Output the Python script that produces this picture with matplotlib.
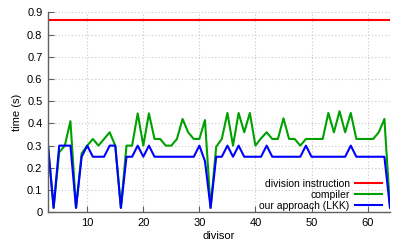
import numpy as np
import matplotlib.pyplot as plt

plt.rcParams['font.family'] = ['Liberation Sans', 'DejaVu Sans']

divisors = np.arange(3, 65)

# time (s) per divisor
div_instr = [0.865] * len(divisors)

compiler = [0.30, 0.02, 0.27, 0.30, 0.41, 0.02, 0.265, 0.30, 0.33, 0.30,
            0.33, 0.36, 0.30, 0.02, 0.30, 0.30, 0.445, 0.30, 0.445, 0.33,
            0.33, 0.30, 0.30, 0.33, 0.42, 0.36, 0.33, 0.33, 0.415, 0.02,
            0.295, 0.33, 0.447, 0.30, 0.447, 0.36, 0.447, 0.30, 0.333, 0.36,
            0.33, 0.33, 0.423, 0.33, 0.33, 0.30, 0.33, 0.33, 0.33, 0.33,
            0.447, 0.36, 0.455, 0.36, 0.447, 0.33, 0.33, 0.33, 0.33, 0.36,
            0.42, 0.02]

lkk = [0.30, 0.02, 0.30, 0.30, 0.30, 0.02, 0.25, 0.30, 0.25, 0.25,
       0.25, 0.30, 0.30, 0.02, 0.25, 0.25, 0.30, 0.25, 0.30, 0.25,
       0.25, 0.25, 0.25, 0.25, 0.25, 0.25, 0.25, 0.30, 0.23, 0.02,
       0.25, 0.25, 0.30, 0.25, 0.30, 0.25, 0.25, 0.25, 0.25, 0.30,
       0.25, 0.25, 0.25, 0.25, 0.25, 0.25, 0.30, 0.25, 0.25, 0.25,
       0.25, 0.25, 0.25, 0.25, 0.30, 0.25, 0.25, 0.25, 0.25, 0.25,
       0.25, 0.02]

fig = plt.figure(figsize=(4.07, 2.44), dpi=100)
ax = fig.add_axes([48 / 407, 31.7 / 244, 342 / 407, 200 / 244])

ax.plot(divisors, div_instr, color='#ff0000', lw=1.5, label='division instruction')
ax.plot(divisors, compiler, color='#00a000', lw=1.5, label='compiler')
ax.plot(divisors, lkk, color='#0000ff', lw=1.5, label='our approach (LKK)')

ax.set_xlim(3, 64)
ax.set_ylim(0, 0.9)
ax.set_xticks([10, 20, 30, 40, 50, 60])
ax.set_yticks(np.arange(0, 0.91, 0.1))
ax.set_yticklabels(['0', '0.1', '0.2', '0.3', '0.4', '0.5', '0.6', '0.7', '0.8', '0.9'])

ax.grid(True, color='#c8c8c8', linestyle=(0, (1, 2)), lw=0.8)
ax.set_axisbelow(True)
for s in ['top', 'right']:
    ax.spines[s].set_visible(False)
for s in ['left', 'bottom']:
    ax.spines[s].set_color('#606060')
    ax.spines[s].set_linewidth(1.0)
ax.tick_params(direction='in', length=4, width=0.8, color='#606060',
               labelsize=8, pad=4)

ax.set_xlabel('divisor', fontsize=8, labelpad=2)
ax.set_ylabel('time (s)', fontsize=8, labelpad=4)

ax.legend(loc='lower right', bbox_to_anchor=(0.995, -0.025), frameon=False,
          markerfirst=False, fontsize=7.5, handlelength=2.6, handletextpad=0.5,
          labelspacing=0.1, borderpad=0.1)

fig.savefig('out.png', dpi=100)
